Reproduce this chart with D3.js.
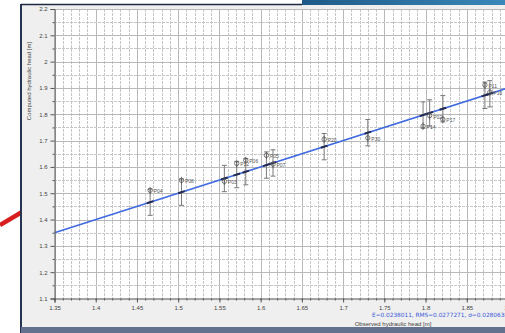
<!DOCTYPE html>
<html>
<head>
<meta charset="utf-8">
<script src="https://cdn.jsdelivr.net/npm/d3@7"></script>
<style>
  body { margin: 0; background: #fff; }
  svg { display: block; font-family: 'Liberation Sans', Arial, sans-serif; }
</style>
</head>
<body>
<div id="chart"></div>
<script>
// observation wells, observed vs computed head [m]
const pointNames = ['P04', 'P08', 'P03', 'P12', 'P06', 'P05', 'P07', 'P20', 'P30', 'P14', 'P02', 'P17', 'P11', 'P16'];
const observedHead = [1.466, 1.504, 1.556, 1.571, 1.582, 1.607, 1.615, 1.677, 1.730, 1.797, 1.805, 1.821, 1.872, 1.878];
const computedHead = [1.511, 1.549, 1.545, 1.613, 1.625, 1.644, 1.610, 1.705, 1.710, 1.755, 1.795, 1.781, 1.911, 1.884];
const headError = [0.05, 0.05, 0.05, 0.05, 0.05, 0.05, 0.05, 0.05, 0.05, 0.05, 0.05, 0.05, 0.05, 0.05];

const xTicks = [1.35, 1.4, 1.45, 1.5, 1.55, 1.6, 1.65, 1.7, 1.75, 1.8, 1.85, 1.9];
const yTicks = [1.1, 1.2, 1.3, 1.4, 1.5, 1.6, 1.7, 1.8, 1.9, 2, 2.1, 2.2];
const statsText = 'E=0.0238011, RMS=0.0277271, \u03c3=0.0280638';

const width = 505, height = 333;

const svg = d3.select('#chart').append('svg')
  .attr('width', width)
  .attr('height', height);

// red arrow poking in from the left
svg.append('line')
  .attr('x1', 0).attr('y1', 225).attr('x2', 22).attr('y2', 212)
  .attr('stroke', '#d81e1e').attr('stroke-width', 4.5);

// window panel
svg.append('rect')
  .attr('x', 21).attr('y', 4).attr('width', width - 21).attr('height', height - 4)
  .attr('fill', '#efefef');
svg.append('line')
  .attr('x1', 21).attr('y1', 4).attr('x2', 21).attr('y2', height)
  .attr('stroke', '#26344f').attr('stroke-width', 2);
svg.append('line')
  .attr('x1', 21).attr('y1', 4.5).attr('x2', 302).attr('y2', 4.5)
  .attr('stroke', '#1e2a44').attr('stroke-width', 1.5);

const grad = svg.append('defs').append('linearGradient')
  .attr('id', 'bar').attr('x1', 0).attr('x2', 1);
grad.append('stop').attr('offset', 0).attr('stop-color', '#1d5a88');
grad.append('stop').attr('offset', 1).attr('stop-color', '#3a87b9');
svg.append('rect')
  .attr('x', 302).attr('y', 0).attr('width', width - 302).attr('height', 5)
  .attr('fill', 'url(#bar)');
svg.append('rect')
  .attr('x', 21).attr('y', 327).attr('width', width - 21).attr('height', 6)
  .attr('fill', '#63718f');

let x = d3.scaleLinear()
  .domain([1.35, 1.9])
  .range([54.5, 508]);

let y = d3.scaleLinear()
  .domain([1.1, 2.2])
  .range([298.5, 9]);

// plot area
svg.append('rect')
  .attr('x', 54.5).attr('y', 9).attr('width', width - 54.5).attr('height', 289.5)
  .attr('fill', '#fff');

svg.append('clipPath').attr('id', 'plot')
  .append('rect').attr('x', 54.5).attr('y', 9).attr('width', width - 54.5).attr('height', 289.5);

let plot = svg.append('g').attr('clip-path', 'url(#plot)');

// grid
let xGrid = d3.range(135, 191).map(v => v / 100);
let yGrid = d3.range(22, 45).map(v => v / 20);

plot.selectAll('.vgrid')
  .data(xGrid)
  .enter().append('line')
  .attr('class', 'vgrid')
  .attr('x1', d => Math.round(x(d)) + 0.5).attr('x2', d => Math.round(x(d)) + 0.5)
  .attr('y1', 9).attr('y2', 298)
  .attr('stroke', (d, i) => i % 5 === 0 ? '#b9b9b9' : '#c6c6c6')
  .attr('stroke-dasharray', (d, i) => i % 5 === 0 ? null : '3,1');

plot.selectAll('.hgrid')
  .data(yGrid)
  .enter().append('line')
  .attr('class', 'hgrid')
  .attr('x1', 54).attr('x2', width)
  .attr('y1', d => Math.round(y(d)) + 0.5).attr('y2', d => Math.round(y(d)) + 0.5)
  .attr('stroke', (d, i) => i % 2 === 0 ? '#b9b9b9' : '#c6c6c6')
  .attr('stroke-dasharray', (d, i) => i % 2 === 0 ? null : '3,1');

// 1:1 line
plot.append('line')
  .attr('x1', x(1.35)).attr('y1', y(1.35))
  .attr('x2', x(1.9)).attr('y2', y(1.9))
  .attr('stroke', '#3f6ae0').attr('stroke-width', 1.6);

let points = plot.selectAll('.pt')
  .data(pointNames.map((name, i) => ({
    name: name, obs: observedHead[i], comp: computedHead[i], err: headError[i]
  })))
  .enter().append('g')
  .attr('class', 'pt');

// error bars around the observed value
points.append('line')
  .attr('x1', d => x(d.obs)).attr('x2', d => x(d.obs))
  .attr('y1', d => y(d.obs - d.err)).attr('y2', d => y(d.obs + d.err))
  .attr('stroke', '#7a7a7a').attr('stroke-width', 1);
points.append('line')
  .attr('x1', d => x(d.obs) - 2.5).attr('x2', d => x(d.obs) + 2.5)
  .attr('y1', d => y(d.obs + d.err)).attr('y2', d => y(d.obs + d.err))
  .attr('stroke', '#7a7a7a');
points.append('line')
  .attr('x1', d => x(d.obs) - 2.5).attr('x2', d => x(d.obs) + 2.5)
  .attr('y1', d => y(d.obs - d.err)).attr('y2', d => y(d.obs - d.err))
  .attr('stroke', '#7a7a7a');

// observed marker on the line
points.append('line')
  .attr('x1', d => x(d.obs - 0.004)).attr('x2', d => x(d.obs + 0.004))
  .attr('y1', d => y(d.obs - 0.004)).attr('y2', d => y(d.obs + 0.004))
  .attr('stroke', '#22294d').attr('stroke-width', 2);

// computed value symbol
points.append('circle')
  .attr('cx', d => x(d.obs)).attr('cy', d => y(d.comp))
  .attr('r', 2.2)
  .attr('fill', 'none').attr('stroke', '#5a5a5a').attr('stroke-width', 0.8);
points.append('line')
  .attr('x1', d => x(d.obs)).attr('x2', d => x(d.obs))
  .attr('y1', d => y(d.comp) - 3.5).attr('y2', d => y(d.comp) + 4)
  .attr('stroke', '#5a5a5a').attr('stroke-width', 0.8);

points.append('text')
  .attr('x', d => x(d.obs) + 3.5)
  .attr('y', d => y(d.comp) + 3)
  .attr('font-size', '5px')
  .attr('fill', '#555')
  .text(d => d.name);

// axes
svg.append('g')
  .attr('class', 'axis axis-y')
  .attr('transform', 'translate(54.5, 0)')
  .call(d3.axisLeft(y).tickValues(yTicks).tickSize(4).tickPadding(3).tickFormat(d3.format('~g')));

svg.append('g')
  .attr('transform', 'translate(54.5, 0)')
  .call(d3.axisLeft(y).tickValues(d3.range(23, 45, 2).map(v => v / 20)).tickSize(2).tickFormat(''))
  .select('.domain').remove();

svg.append('g')
  .attr('class', 'axis axis-x')
  .attr('transform', 'translate(0, 298.5)')
  .call(d3.axisBottom(x).tickValues(xTicks).tickSize(4).tickPadding(3).tickFormat(d3.format('~g')));

svg.append('g')
  .attr('transform', 'translate(0, 298.5)')
  .call(d3.axisBottom(x).tickValues(xGrid).tickSize(2).tickFormat(''))
  .select('.domain').remove();

svg.selectAll('.tick line').attr('stroke', '#555');
svg.selectAll('.domain').attr('stroke', '#555');
svg.selectAll('.axis text')
  .attr('font-size', '6px')
  .attr('font-family', "'Liberation Sans', Arial, sans-serif")
  .attr('fill', '#444');

// titles
svg.append('text')
  .attr('transform', 'translate(31, 81) rotate(-90)')
  .attr('text-anchor', 'middle')
  .attr('font-size', '6px')
  .attr('fill', '#444')
  .text('Computed hydraulic head [m]');

svg.append('text')
  .attr('x', 393).attr('y', 326)
  .attr('text-anchor', 'middle')
  .attr('font-size', '6px')
  .attr('fill', '#444')
  .text('Observed hydraulic head [m]');

svg.append('text')
  .attr('x', 372).attr('y', 317)
  .attr('font-size', '5.8px')
  .attr('font-family', "'DejaVu Sans', sans-serif")
  .attr('fill', '#3a5ad8')
  .text(statsText);
</script>
</body>
</html>
